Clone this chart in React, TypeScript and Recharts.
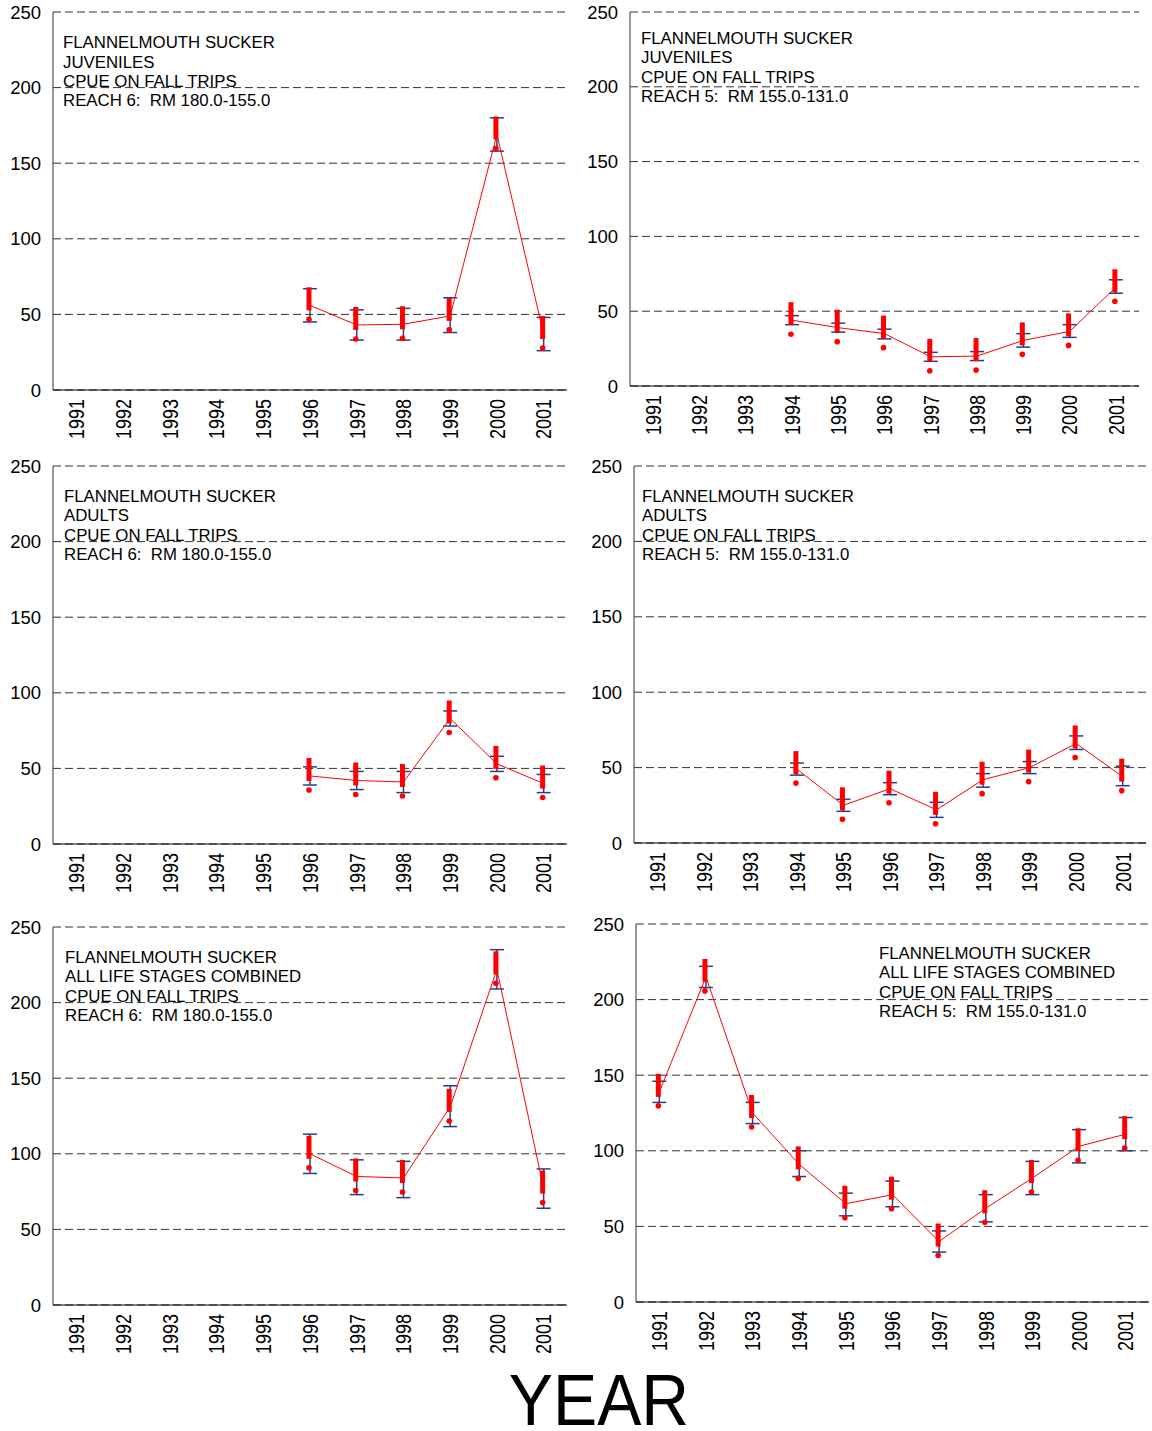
import React from 'react';
import { ComposedChart, Line, XAxis, YAxis, CartesianGrid, ErrorBar } from 'recharts';

const FONT = '"Liberation Sans", Arial, Helvetica, sans-serif';

const years = ['1991', '1992', '1993', '1994', '1995', '1996', '1997', '1998', '1999', '2000', '2001'];
const yTicks = [0, 50, 100, 150, 200, 250];

// Reach 6 juveniles
const juvR6Years = ['1996', '1997', '1998', '1999', '2000', '2001'];
const juvR6Mean = [56, 43, 43.5, 49, 169, 37];
const juvR6Low = [45, 33, 33, 38, 158, 26];
const juvR6High = [67, 53, 54, 61, 180, 48];

// Reach 5 juveniles
const juvR5Years = ['1994', '1995', '1996', '1997', '1998', '1999', '2000', '2001'];
const juvR5Mean = [44, 39, 35, 19.5, 20, 30.5, 36.5, 66];
const juvR5Low = [41, 36, 31.5, 16.5, 17, 26, 32.5, 62];
const juvR5High = [47, 42, 38, 22.5, 23, 35, 41, 71];

// Reach 6 adults
const adR6Years = ['1996', '1997', '1998', '1999', '2000', '2001'];
const adR6Mean = [45, 42, 41, 83, 53, 40];
const adR6Low = [39, 36, 34, 78, 48, 34];
const adR6High = [51, 48, 48, 88, 58, 46];

// Reach 5 adults
const adR5Years = ['1994', '1995', '1996', '1997', '1998', '1999', '2000', '2001'];
const adR5Mean = [49, 25, 36, 22, 42, 50, 66, 44];
const adR5Low = [45, 21, 32, 17, 37, 46, 62, 38];
const adR5High = [53, 29, 40, 27, 46, 54, 71, 51];

// Reach 6 all life stages
const allR6Years = ['1996', '1997', '1998', '1999', '2000', '2001'];
const allR6Mean = [100, 85, 84, 131, 222, 77];
const allR6Low = [87, 73, 71, 118, 209, 64];
const allR6High = [113, 96, 95, 145, 235, 90];

// Reach 5 all life stages
const allR5Years = ['1991', '1992', '1993', '1994', '1995', '1996', '1997', '1998', '1999', '2000', '2001'];
const allR5Mean = [139, 215, 125, 91, 65, 71, 40, 62, 82, 103, 111];
const allR5Low = [132, 208, 118, 83, 57, 63, 33, 53, 71, 92, 100];
const allR5High = [146, 222, 132, 100, 72, 80, 47, 71, 93, 114, 122];

const buildData = (ys: string[], mean: number[], low: number[], high: number[]) =>
  years.map((year) => {
    const i = ys.indexOf(year);
    if (i < 0) return { year, mean: null, err: null };
    return { year, mean: mean[i], err: [mean[i] - low[i], high[i] - mean[i]] };
  });

const Bang = (props: any) => {
  const { cx, cy, payload, index } = props;
  if (cy == null || cx == null || payload == null || payload.mean == null) return <g key={`b${index}`} />;
  return (
    <g key={`b${index}`}>
      <rect x={cx - 3.5} y={cy - 18} width={5} height={23} fill="#ff0000" />
      <circle cx={cx - 1} cy={cy + 14} r={2.8} fill="#ff0000" />
    </g>
  );
};

const XTick = (props: any) => {
  const { x, y, payload } = props;
  return (
    <text
      transform={`translate(${x},${y + 1}) scale(1.2,1) rotate(-90)`}
      textAnchor="end"
      dy="0.36em"
      fontSize={18}
      fontFamily={FONT}
      fill="#000"
    >
      {payload.value}
    </text>
  );
};

type PanelProps = {
  data: any[];
  pl: number;
  pt: number;
  pr: number;
  pb: number;
  lines: string[];
  lx: number;
  ly: number;
};

const Panel = ({ data, pl, pt, pr, pb, lines, lx, ly }: PanelProps) => {
  const pw = pr - pl;
  const ph = pb - pt;
  const ML = 70;
  const MT = 12;
  const MR = 8;
  const XH = 70;
  return (
    <>
      <div style={{ position: 'absolute', left: pl - ML, top: pt - MT }}>
        <ComposedChart
          width={pw + ML + MR}
          height={MT + ph + XH}
          data={data}
          margin={{ top: MT, right: MR, bottom: 0, left: 0 }}
        >
          <CartesianGrid yAxisId="l" horizontal vertical={false} stroke="#333" strokeDasharray="8 4" />
          <XAxis
            dataKey="year"
            type="category"
            scale="band"
            interval={0}
            tickLine={false}
            axisLine={{ stroke: '#000' }}
            height={XH}
            tick={<XTick />}
          />
          <YAxis
            yAxisId="l"
            domain={[0, 250]}
            ticks={yTicks}
            interval={0}
            width={ML}
            tickLine={false}
            tickMargin={6}
            axisLine={{ stroke: '#333' }}
            tick={{ fontSize: 18.5, fill: '#000', fontFamily: FONT }}
          />
          <YAxis
            yAxisId="r"
            orientation="right"
            domain={[0, 250]}
            width={0}
            tick={false}
            tickLine={false}
            axisLine={{ stroke: '#000' }}
          />
          <Line
            yAxisId="l"
            dataKey="mean"
            stroke="#ff0000"
            strokeWidth={1}
            dot={(p: any) => <Bang {...p} />}
            activeDot={false}
            isAnimationActive={false}
          >
            <ErrorBar dataKey="err" width={7} stroke="#22408f" strokeWidth={1.5} direction="y" isAnimationActive={false} />
          </Line>
        </ComposedChart>
      </div>
      <div
        style={{
          position: 'absolute',
          left: lx,
          top: ly,
          fontFamily: FONT,
          fontSize: 16,
          lineHeight: '19.3px',
          whiteSpace: 'pre',
          transform: 'scaleX(1.05)',
          transformOrigin: 'left top',
          color: '#000',
        }}
      >
        {lines.map((t, i) => (
          <div key={i}>{t}</div>
        ))}
      </div>
    </>
  );
};

const TITLE = 'FLANNELMOUTH SUCKER';
const TRIPS = 'CPUE ON FALL TRIPS';
const R6 = 'REACH 6:  RM 180.0-155.0';
const R5 = 'REACH 5:  RM 155.0-131.0';

export default function App() {
  return (
    <div style={{ position: 'absolute', left: 0, top: 0, width: 1152, height: 1431, background: '#fff', overflow: 'hidden' }}>
      <Panel data={buildData(juvR6Years, juvR6Mean, juvR6Low, juvR6High)} pl={53} pt={12} pr={567} pb={390}
        lines={[TITLE, 'JUVENILES', TRIPS, R6]} lx={63} ly={33.3} />
      <Panel data={buildData(juvR5Years, juvR5Mean, juvR5Low, juvR5High)} pl={630} pt={12} pr={1139} pb={386}
        lines={[TITLE, 'JUVENILES', TRIPS, R5]} lx={641} ly={29} />
      <Panel data={buildData(adR6Years, adR6Mean, adR6Low, adR6High)} pl={53} pt={466} pr={567} pb={844}
        lines={[TITLE, 'ADULTS', TRIPS, R6]} lx={64} ly={487} />
      <Panel data={buildData(adR5Years, adR5Mean, adR5Low, adR5High)} pl={634} pt={466} pr={1146} pb={843}
        lines={[TITLE, 'ADULTS', TRIPS, R5]} lx={642} ly={487} />
      <Panel data={buildData(allR6Years, allR6Mean, allR6Low, allR6High)} pl={53} pt={927} pr={567} pb={1305}
        lines={[TITLE, 'ALL LIFE STAGES COMBINED', TRIPS, R6]} lx={65} ly={948} />
      <Panel data={buildData(allR5Years, allR5Mean, allR5Low, allR5High)} pl={636} pt={924} pr={1149} pb={1302}
        lines={[TITLE, 'ALL LIFE STAGES COMBINED', TRIPS, R5]} lx={879} ly={944} />
      <svg style={{ position: 'absolute', left: 0, top: 0 }} width={1152} height={1431} pointerEvents="none">
        <text x={599} y={1425} textAnchor="middle" fontFamily={FONT} fontSize={72} fill="#000"
          transform="translate(599,0) scale(0.92,1) translate(-599,0)">
          YEAR
        </text>
      </svg>
    </div>
  );
}
